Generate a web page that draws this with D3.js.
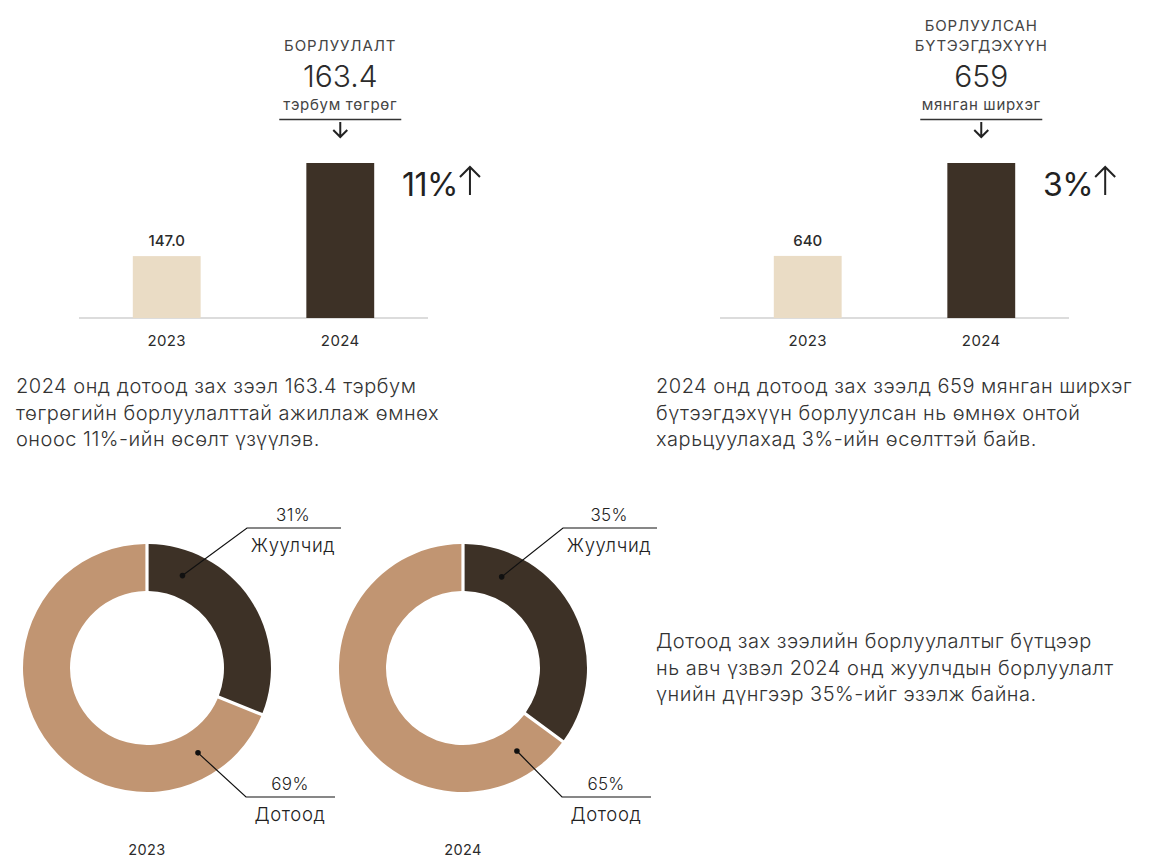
<!DOCTYPE html>
<html><head><meta charset="utf-8">
<script src="https://cdn.jsdelivr.net/npm/d3@7"></script>
<style>
body{margin:0;background:#fff;}
text{font-family:Inter,"Noto Sans",sans-serif;}
</style></head>
<body><svg id="c" width="1162" height="857"></svg>
<script>
// ---- data ----
const years = ["2023", "2024"];
const salesValues = [147.0, 163.4];
const salesLabels = ["147.0", ""];
const unitsValues = [640, 659];
const unitsLabels = ["640", ""];
const salesTitle = ["БОРЛУУЛАЛТ"];
const salesBig = "163.4";
const salesUnit = "тэрбум төгрөг";
const salesGrowth = "11%";
const unitsTitle = ["БОРЛУУЛСАН", "БҮТЭЭГДЭХҮҮН"];
const unitsBig = "659";
const unitsUnit = "мянган ширхэг";
const unitsGrowth = "3%";
const shareCategories = ["Жуулчид", "Дотоод"];
const share2023 = [31, 69];
const share2024 = [35, 65];
const text1 = ["2024 онд дотоод зах зээл 163.4 тэрбум", "төгрөгийн борлуулалттай ажиллаж өмнөх", "оноос 11%-ийн өсөлт үзүүлэв."];
const text2 = ["2024 онд дотоод зах зээлд 659 мянган ширхэг", "бүтээгдэхүүн борлуулсан нь өмнөх онтой", "харьцуулахад 3%-ийн өсөлттэй байв."];
const text3 = ["Дотоод зах зээлийн борлуулалтыг бүтцээр", "нь авч үзвэл 2024 онд жуулчдын борлуулалт", "үнийн дүнгээр 35%-ийг эзэлж байна."];

const DARK = "#3d3126", LIGHT = "#eadcc5", TAN = "#c19572", TXT = "#2b2b2b";
const svg = d3.select("#c");

function barChart(x0, values, labels, floor, title, big, unit, growth) {
  const g = svg.append("g");
  const x = d3.scaleBand().domain(years).range([x0, x0 + 349]).paddingInner(0.609).paddingOuter(0.31);
  const y = d3.scaleLinear().domain([floor, d3.max(values)]).range([318, 163]);
  g.append("line").attr("x1", x0).attr("x2", x0 + 349).attr("y1", 318).attr("y2", 318)
    .attr("stroke", "#dcdcdc").attr("stroke-width", 2);
  g.selectAll("rect").data(values).join("rect")
    .attr("x", (d, i) => x(years[i])).attr("width", x.bandwidth())
    .attr("y", d => y(d)).attr("height", d => 318 - y(d))
    .attr("fill", (d, i) => i === 0 ? LIGHT : DARK);
  g.selectAll(".yl").data(years).join("text")
    .attr("x", d => x(d) + x.bandwidth() / 2).attr("y", 346)
    .attr("text-anchor", "middle").attr("font-size", 15).attr("letter-spacing", 0.4).attr("fill", TXT).text(d => d);
  g.selectAll(".vl").data(values).join("text")
    .attr("x", (d, i) => x(years[i]) + x.bandwidth() / 2).attr("y", d => y(d) - 10)
    .attr("text-anchor", "middle").attr("font-size", 15).attr("font-weight", 500).attr("fill", TXT)
    .text((d, i) => labels[i]);
  const cx = x(years[1]) + x.bandwidth() / 2;
  const n = title.length;
  title.forEach((t, i) => {
    g.append("text").attr("x", cx).attr("y", 51 - (n - 1 - i) * 20).attr("text-anchor", "middle")
      .attr("font-size", 15).attr("fill", "#444").attr("letter-spacing", 0.9).text(t);
  });
  g.append("text").attr("x", cx).attr("y", 87).attr("text-anchor", "middle")
    .attr("font-size", 30).attr("font-weight", 300).attr("fill", TXT).text(big);
  g.append("text").attr("x", cx).attr("y", 110).attr("text-anchor", "middle")
    .attr("font-size", 15).attr("letter-spacing", 0.7).attr("fill", "#444").text(unit);
  g.append("line").attr("x1", cx - 61).attr("x2", cx + 61).attr("y1", 119.5).attr("y2", 119.5)
    .attr("stroke", "#333").attr("stroke-width", 1.5);
  g.append("path").attr("d", `M${cx},122V137M${cx - 7},130L${cx},137L${cx + 7},130`)
    .attr("fill", "none").attr("stroke", "#222").attr("stroke-width", 2);
  const gt = g.append("text").attr("x", x0 + 323).attr("y", 196)
    .attr("font-size", 32).attr("font-weight", 400).attr("fill", "#222").attr("letter-spacing", -0.5).text(growth);
  const w = gt.node().getComputedTextLength();
  const ax = x0 + 323 + w + 12;
  g.append("path").attr("d", `M${ax},195V167M${ax - 10},177L${ax},167L${ax + 10},177`)
    .attr("fill", "none").attr("stroke", "#222").attr("stroke-width", 2);
}
barChart(79, salesValues, salesLabels, 136.1, salesTitle, salesBig, salesUnit, salesGrowth);
barChart(720, unitsValues, unitsLabels, 627.3, unitsTitle, unitsBig, unitsUnit, unitsGrowth);

function para(x, y0, lines) {
  lines.forEach((l, i) => {
    svg.append("text").attr("x", x).attr("y", y0 + i * 26.5).attr("font-size", 20).attr("font-weight", 300)
      .attr("letter-spacing", 0.5).attr("fill", "#333").text(l);
  });
}
para(16, 393, text1);
para(656, 393, text2);
para(656, 648, text3);

function donut(cx, cy, values, year, dotAngles) {
  const g = svg.append("g").attr("transform", `translate(${cx},${cy})`);
  const pie = d3.pie().sort(null).padAngle(0.022)(values);
  const arc = d3.arc().innerRadius(77).outerRadius(124);
  g.selectAll("path").data(pie).join("path").attr("d", arc)
    .attr("fill", (d, i) => i === 0 ? DARK : TAN);
  pie.forEach((p, i) => {
    const a = dotAngles[i] * Math.PI / 180, r = 99;
    const dx = Math.sin(a) * r, dy = -Math.cos(a) * r;
    const ey = i === 0 ? -140 : 129, ex = i === 0 ? 100 : 99;
    g.append("circle").attr("cx", dx).attr("cy", dy).attr("r", 2.8).attr("fill", "#111");
    g.append("polyline").attr("points", `${dx},${dy} ${ex},${ey} ${ex + (i === 0 ? 94 : 89)},${ey}`)
      .attr("fill", "none").attr("stroke", "#111").attr("stroke-width", 1.2);
    const lx = i === 0 ? 146 : 143;
    g.append("text").attr("x", lx).attr("y", ey - 7).attr("text-anchor", "middle")
      .attr("font-size", 17).attr("font-weight", 300).attr("letter-spacing", 0.3).attr("fill", "#222").text(values[i] + "%");
    g.append("text").attr("x", lx).attr("y", ey + 24).attr("text-anchor", "middle")
      .attr("font-size", 18.5).attr("font-weight", 300).attr("letter-spacing", 0.6).attr("fill", "#222").text(shareCategories[i]);
  });
  g.append("text").attr("x", 0).attr("y", 187).attr("text-anchor", "middle")
    .attr("font-size", 14.5).attr("letter-spacing", 0.4).attr("fill", TXT).text(year);
}
donut(147, 668, share2023, years[0], [21, 149]);
donut(463, 668, share2024, years[1], [23, 147]);
</script></body></html>
